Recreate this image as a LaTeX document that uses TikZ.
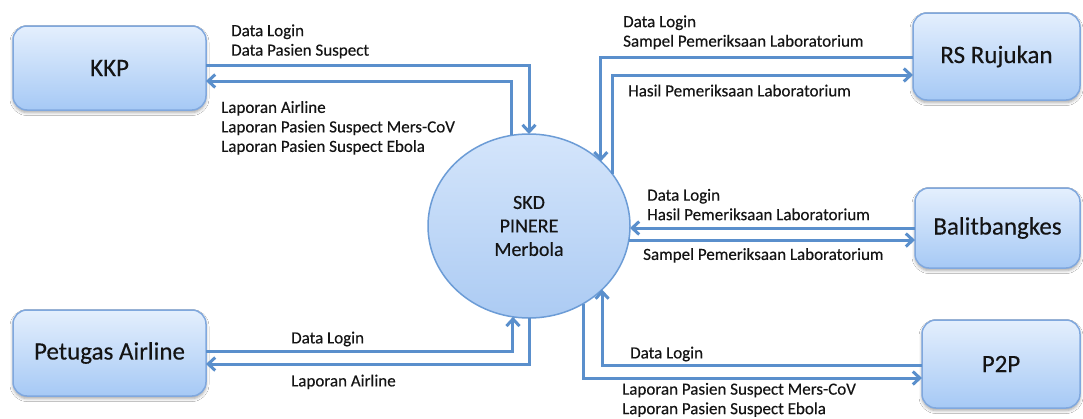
\documentclass[tikz,border=0pt]{standalone}
\usepackage{fontspec}
\setmainfont{Carlito}[FakeBold=0.3]
\usetikzlibrary{arrows.meta,shapes.geometric,shadows.blur}
\definecolor{flowc}{RGB}{90,143,204}
\definecolor{boxborder}{RGB}{128,168,222}
\definecolor{boxtop}{RGB}{228,239,253}
\definecolor{boxbot}{RGB}{166,201,245}
\definecolor{circtop}{RGB}{212,229,251}
\definecolor{circbot}{RGB}{172,203,243}
\definecolor{circborder}{RGB}{108,156,214}
\definecolor{txt}{RGB}{20,20,20}
\tikzset{
  entity/.style={draw=boxborder, line width=1.5pt, rounded corners=14pt,
    top color=boxtop, bottom color=boxbot, inner sep=0pt, outer sep=0pt,
    text=txt, font=\fontsize{25}{28}\selectfont,
    blur shadow={shadow xshift=0pt, shadow yshift=-2.5pt, shadow blur radius=3pt, shadow opacity=35}},
  proc/.style={ellipse, draw=circborder, line width=1.5pt, top color=circtop, bottom color=circbot,
    inner sep=0pt, outer sep=0pt, minimum width=202pt, minimum height=184pt,
    text=txt, align=center, font=\fontsize{20}{23.5}\selectfont},
  flow/.style={draw=flowc, line width=3pt, -{Straight Barb[length=7pt,width=13pt]}},
  lab/.style={anchor=west, inner sep=0pt, align=left, text=txt, font=\fontsize{17}{19.5}\selectfont}
}
\begin{document}
\begin{tikzpicture}[x=1pt,y=-1pt]
\useasboundingbox (0,0) rectangle (1083,418);
\fill[white] (0,0) rectangle (1083,418);

\node[entity, minimum width=193pt, minimum height=84pt] (kkp) at (109.5,68) {KKP};
\node[entity, minimum width=193pt, minimum height=86pt] (pa) at (109.5,353) {Petugas Airline};
\node[entity, minimum width=167pt, minimum height=87pt] (rs) at (996.5,56.5) {RS Rujukan};
\node[entity, minimum width=165pt, minimum height=80pt] (bal) at (997.5,228) {Balitbangkes};
\node[entity, minimum width=158pt, minimum height=88pt] (p2p) at (1001,364) {P2P};

\node[proc] (skd) at (529,226) {SKD\\PINERE\\Merbola};

% KKP
\draw[flow] ([yshift=3pt]kkp.east) -| (skd.north);
\draw[flow] (skd.101.9) |- ([yshift=-13pt]kkp.east);
% RS Rujukan
\draw[flow] ([yshift=-0.5pt]rs.west) -| (skd.42.66);
\draw[flow] (skd.32.28) |- ([yshift=-18.5pt]rs.west);
% Balitbangkes
\draw[flow] (bal.west) -- (bal.west -| skd.-1.13);
\draw[flow] (skd.-8.56) -- (skd.-8.56 -| bal.west);
% P2P
\draw[flow] ([yshift=-1pt]p2p.west) -| (skd.-41.05);
\draw[flow] (skd.-55.22) |- ([yshift=-14pt]p2p.west);
% Petugas Airline
\draw[flow] ([yshift=2pt]pa.east) -| (skd.260.64);
\draw[flow] (skd.south) |- ([yshift=-11pt]pa.east);

% labels
\node[lab] (t1) at (231,42) {\strut Data Login\\\strut Data Pasien Suspect};
\node[lab] (t2) at (221,128.5) {\strut Laporan Airline\\\strut Laporan Pasien Suspect Mers-CoV\\\strut Laporan Pasien Suspect Ebola};
\node[lab] (t3) at (623,33) {\strut Data Login\\\strut Sampel Pemeriksaan Laboratorium};
\node[lab] (t4) at (628,92.5) {\strut Hasil Pemeriksaan Laboratorium};
\node[lab] (t5) at (647,206.5) {\strut Data Login\\\strut Hasil Pemeriksaan Laboratorium};
\node[lab] (t6) at (643,256) {\strut Sampel Pemeriksaan Laboratorium};
\node[lab] (t7) at (630,354.5) {\strut Data Login};
\node[lab] (t8) at (622,400.5) {\strut Laporan Pasien Suspect Mers-CoV\\\strut Laporan Pasien Suspect Ebola};
\node[lab] (t9) at (291,339.5) {\strut Data Login};
\node[lab] (t10) at (291,382.5) {\strut Laporan Airline};
\end{tikzpicture}
\end{document}
